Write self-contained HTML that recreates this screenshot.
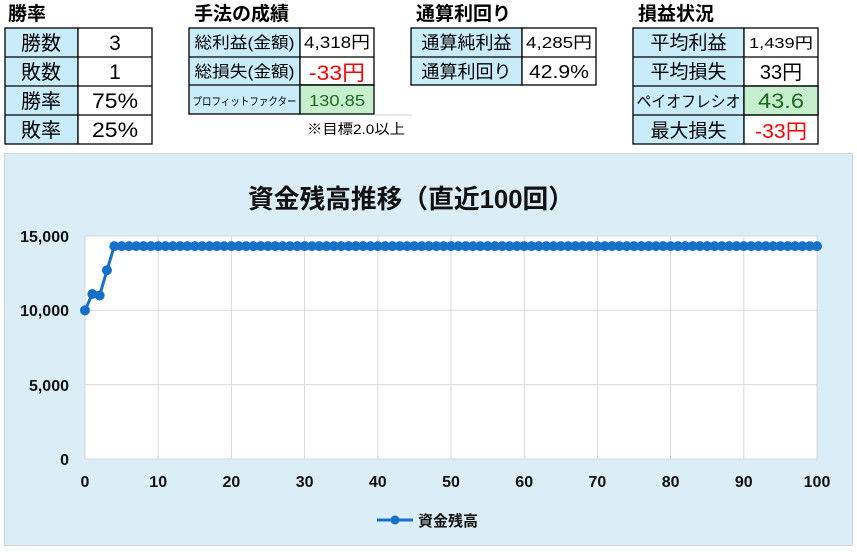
<!DOCTYPE html>
<html><head><meta charset="utf-8">
<style>
html,body{margin:0;padding:0;background:#fff;}
svg{display:block;font-family:"Liberation Sans","Noto Sans CJK JP",sans-serif;}
</style></head>
<body>
<svg id="s" width="857" height="552" viewBox="0 0 857 552" xmlns="http://www.w3.org/2000/svg">
<g font-weight="bold" font-size="19" fill="#000">
<text x="8" y="20">勝率</text>
<text x="194" y="20">手法の成績</text>
<text x="416" y="20">通算利回り</text>
<text x="638" y="20">損益状況</text>
</g>
<g stroke="#000" stroke-width="1.3">
<rect x="5" y="28" width="73" height="116" fill="#c9ecfb"/>
<rect x="78" y="28" width="74" height="116" fill="#fff"/>
<line x1="5" y1="57" x2="152" y2="57"/><line x1="5" y1="86" x2="152" y2="86"/><line x1="5" y1="115" x2="152" y2="115"/>
<rect x="189" y="28" width="111" height="86" fill="#c9ecfb"/>
<rect x="300" y="28" width="74" height="57" fill="#fff"/>
<rect x="300" y="85" width="74" height="29" fill="#c6efce"/>
<line x1="189" y1="57" x2="374" y2="57"/><line x1="189" y1="85" x2="374" y2="85"/>
<rect x="411" y="28" width="111" height="57" fill="#c9ecfb"/>
<rect x="522" y="28" width="74" height="57" fill="#fff"/>
<line x1="411" y1="57" x2="596" y2="57"/>
<rect x="633" y="28" width="111" height="116" fill="#c9ecfb"/>
<rect x="744" y="28" width="74" height="116" fill="#fff"/>
<rect x="744" y="86" width="74" height="29" fill="#c6efce"/>
<line x1="633" y1="57" x2="818" y2="57"/><line x1="633" y1="86" x2="818" y2="86"/><line x1="633" y1="115" x2="818" y2="115"/>
</g>
<line x1="374" y1="115" x2="412" y2="115" stroke="#d0d0d0" stroke-width="1"/>
<g font-size="20" text-anchor="middle" fill="#000">
<text x="41" y="50">勝数</text><text x="115" y="50" font-size="21">3</text>
<text x="41" y="79">敗数</text><text x="115" y="79" font-size="21">1</text>
<text x="41" y="108">勝率</text><text x="115" y="108" font-size="21" textLength="46" lengthAdjust="spacingAndGlyphs">75%</text>
<text x="41" y="137">敗率</text><text x="115" y="137" font-size="21" textLength="46" lengthAdjust="spacingAndGlyphs">25%</text>
</g>
<g font-size="16" text-anchor="middle" fill="#000">
<text x="244.5" y="48" textLength="100" lengthAdjust="spacingAndGlyphs">総利益(金額)</text><text x="337" y="48" font-size="17" textLength="66" lengthAdjust="spacingAndGlyphs">4,318円</text>
<text x="244.5" y="77" textLength="100" lengthAdjust="spacingAndGlyphs">総損失(金額)</text>
<text x="466.5" y="49" font-size="18">通算純利益</text><text x="559" y="48" font-size="16" textLength="66" lengthAdjust="spacingAndGlyphs">4,285円</text>
<text x="466.5" y="78" font-size="18">通算利回り</text><text x="559" y="78" font-size="18" textLength="60" lengthAdjust="spacingAndGlyphs">42.9%</text>
<text x="781" y="48" font-size="15" textLength="64" lengthAdjust="spacingAndGlyphs">1,439円</text>
</g>
<text x="337" y="80" font-size="21" text-anchor="middle" fill="#ff0000" textLength="56" lengthAdjust="spacingAndGlyphs">-33円</text>
<text x="244.5" y="105" font-size="11" text-anchor="middle" fill="#000" textLength="104" lengthAdjust="spacingAndGlyphs">プロフィットファクター</text>
<text x="337" y="106" font-size="16" text-anchor="middle" fill="#1e6b1e" textLength="56" lengthAdjust="spacingAndGlyphs">130.85</text>
<text x="356" y="134" font-size="14" text-anchor="middle" fill="#000" textLength="98" lengthAdjust="spacingAndGlyphs">※目標2.0以上</text>
<g font-size="19" text-anchor="middle" fill="#000">
<text x="688.5" y="49">平均利益</text>
<text x="688.5" y="78">平均損失</text><text x="781" y="79" font-size="20">33円</text>
<text x="688.5" y="107" font-size="16" textLength="104" lengthAdjust="spacingAndGlyphs">ペイオフレシオ</text>
<text x="688.5" y="137">最大損失</text>
</g>
<text x="781" y="108" font-size="21" text-anchor="middle" fill="#1e6b1e" textLength="46" lengthAdjust="spacingAndGlyphs">43.6</text>
<text x="781" y="138" font-size="20" text-anchor="middle" fill="#ff0000" textLength="52" lengthAdjust="spacingAndGlyphs">-33円</text>

<rect x="4.5" y="153.5" width="848" height="392" fill="#dbeef7" stroke="#d4d4d4"/>
<text x="411" y="208" font-size="26" font-weight="bold" text-anchor="middle" fill="#111" textLength="326" lengthAdjust="spacingAndGlyphs">資金残高推移（直近100回）</text>
<rect x="85" y="236" width="732" height="223" fill="#fff"/>
<g id="grid" stroke="#d9d9d9" stroke-width="1"></g>
<g font-size="16" font-weight="bold" fill="#111" text-anchor="end">
<text x="69" y="242">15,000</text>
<text x="69" y="316">10,000</text>
<text x="69" y="391">5,000</text>
<text x="69" y="465">0</text>
</g>
<g id="xl" font-size="16" font-weight="bold" fill="#111" text-anchor="middle"></g>
<polyline id="ln" fill="none" stroke="#1570c8" stroke-width="3" stroke-linejoin="round"/>
<g id="pts" fill="#1570c8"></g>
<line x1="377" y1="520" x2="413" y2="520" stroke="#1570c8" stroke-width="3"/>
<circle cx="395" cy="520" r="4.5" fill="#1570c8"/>
<text x="418" y="526" font-size="15" font-weight="bold" fill="#111">資金残高</text>
</svg>
<script>
var NS="http://www.w3.org/2000/svg";
function el(t,a,p){var e=document.createElementNS(NS,t);for(var k in a)e.setAttribute(k,a[k]);document.getElementById(p).appendChild(e);return e;}
var x0=85,x1=817,yb=459,yt=236;
for(var i=0;i<=10;i++){var x=x0+(x1-x0)*i/10;
 el("line",{x1:x,y1:yt,x2:x,y2:yb},"grid");
 var t=el("text",{x:x,y:487},"xl");t.textContent=String(i*10);}
for(var j=0;j<=3;j++){var y=yb-(yb-yt)*j/3;el("line",{x1:x0,y1:y,x2:x1,y2:y},"grid");}
var vals=[10000,11100,11000,12700];for(var k=4;k<=100;k++)vals.push(14318);
var pts=[];
for(var i=0;i<=100;i++){var x=x0+(x1-x0)*i/100,y=yb-(yb-yt)*vals[i]/15000;pts.push(x.toFixed(1)+","+y.toFixed(1));
 el("circle",{cx:x,cy:y,r:5},"pts");}
document.getElementById("ln").setAttribute("points",pts.join(" "));
</script>
</body></html>
